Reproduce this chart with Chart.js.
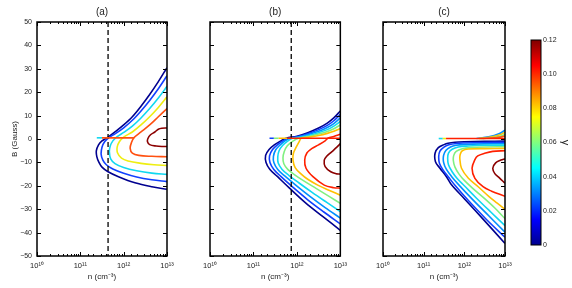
<!DOCTYPE html>
<html>
<head>
<meta charset="utf-8">
<script src="https://cdn.jsdelivr.net/npm/chart.js@4.4.0/dist/chart.umd.min.js"></script>
<style>
html, body { margin: 0; padding: 0; background: #fff; }
#wrap { position: relative; width: 572px; height: 288px; overflow: hidden; }
.pane { position: absolute; top: 0; }
</style>
</head>
<body>
<div id="wrap">
  <canvas id="chart-a" class="pane" style="left:0" width="180" height="288"></canvas>
  <canvas id="chart-b" class="pane" style="left:180px" width="172" height="288"></canvas>
  <canvas id="chart-c" class="pane" style="left:352px" width="166" height="288"></canvas>
  <canvas id="chart-bar" class="pane" style="left:520px" width="52" height="288"></canvas>
</div>
<script>
// contour points are [log10(n), B in Gauss]
const yTickValues = [-50, -40, -30, -20, -10, 0, 10, 20, 30, 40, 50];
const gammaTicks = [0, 0.02, 0.04, 0.06, 0.08, 0.10, 0.12];

// panel (a)
const aDash = 11.64;
const aNavy = [[13.0,30.5],[12.8,24.5],[12.6,19],[12.4,14],[12.2,9.5],[12.0,6],[11.8,3],[11.64,0.8],[11.5,-0.8],[11.42,-2.5],[11.37,-5],[11.38,-7.5],[11.43,-10],[11.5,-12],[11.64,-14],[11.88,-16.1],[12.26,-18.7],[12.65,-20.4],[13.0,-21.5]];
const aBlue = [[13.0,27],[12.8,21.5],[12.6,16.5],[12.4,12],[12.2,8],[12.0,4.8],[11.8,2.2],[11.66,0.6],[11.56,-1.2],[11.5,-3.5],[11.48,-6.5],[11.52,-9],[11.6,-11],[11.75,-12.8],[12.0,-14.6],[12.3,-16.2],[12.65,-17.4],[13.0,-18.2]];
const aCyan = [[13.0,22.5],[12.8,17.5],[12.6,13],[12.4,9],[12.2,5.5],[12.0,2.8],[11.85,1],[11.75,-0.8],[11.69,-3],[11.67,-5.5],[11.7,-8.5],[11.8,-10.5],[12.0,-12.2],[12.3,-13.6],[12.65,-14.6],[13.0,-15.1]];
const aYellow = [[13.0,18],[12.8,13.5],[12.6,9.5],[12.4,6],[12.2,3],[12.0,0.8],[11.9,-1.2],[11.85,-3.5],[11.86,-6],[11.95,-8.2],[12.1,-9.4],[12.4,-10.4],[12.7,-11],[13.0,-11.3]];
const aOrange = [[13.0,13],[12.8,9.5],[12.6,6],[12.4,3],[12.24,0.6],[12.18,-1.5],[12.15,-4],[12.2,-6],[12.35,-7],[12.65,-7.4],[13.0,-7.6]];
const aDarkRed = [[13.0,4.7],[12.88,4.6],[12.8,4.2],[12.72,3],[12.62,1.8],[12.56,0.2],[12.55,-1.2],[12.6,-2.4],[12.75,-3.0],[12.9,-3.2],[13.0,-3.2]];
const aFlatTip = [[11.38,0.5],[11.5,0.5]];
const aFlat = [[11.5,0.5],[12.24,0.5]];

// panel (b)
const bDash = 11.87;
const bNavy = [[13.0,12],[12.85,9],[12.7,6.8],[12.5,4.7],[12.25,2.7],[12.0,1.2],[11.75,0.3],[11.62,-0.9],[11.48,-2.5],[11.36,-4.5],[11.28,-7],[11.29,-10],[11.38,-13],[11.55,-16],[11.83,-21],[12.2,-27.3],[12.6,-33.2],[13.0,-39]];
const bBlue = [[13.0,10.5],[12.85,7.8],[12.7,5.8],[12.5,4],[12.25,2.2],[12.0,0.9],[11.8,0.3],[11.67,-0.9],[11.55,-2.5],[11.44,-4.5],[11.37,-7.2],[11.38,-10],[11.47,-13],[11.63,-16],[11.9,-20.5],[12.25,-26],[12.62,-31.2],[13.0,-36.3]];
const bDodger = [[13.0,9],[12.85,6.6],[12.7,4.9],[12.5,3.3],[12.25,1.8],[12.0,0.7],[11.85,0.3],[11.72,-0.9],[11.61,-2.6],[11.51,-4.7],[11.46,-7.4],[11.47,-10],[11.56,-13],[11.72,-15.8],[11.98,-19.8],[12.3,-24.5],[12.65,-29.3],[13.0,-33.8]];
const bCyan = [[13.0,7.5],[12.85,5.5],[12.7,4],[12.5,2.7],[12.25,1.4],[12.0,0.5],[11.9,0.3],[11.78,-1],[11.67,-2.8],[11.59,-5],[11.56,-7.6],[11.57,-10.3],[11.66,-13],[11.82,-15.6],[12.05,-18.8],[12.35,-22.8],[12.68,-27],[13.0,-31]];
const bGreen = [[13.0,6],[12.85,4.4],[12.7,3.2],[12.5,2.1],[12.25,1.0],[12.05,0.4],[11.9,-1],[11.78,-2.9],[11.71,-5.3],[11.68,-8],[11.7,-10.6],[11.79,-13],[11.95,-15.3],[12.15,-17.8],[12.45,-21.2],[12.75,-24.6],[13.0,-27.5]];
const bOrange = [[13.0,4.5],[12.85,3.3],[12.7,2.4],[12.5,1.5],[12.25,0.7],[12.1,0.3],[12.05,-1.2],[11.99,-3.3],[11.92,-6.1],[11.91,-9],[11.96,-12.2],[12.1,-15],[12.25,-17.2],[12.48,-19.7],[12.75,-22],[13.0,-24]];
const bRed = [[13.0,2],[12.85,1.1],[12.72,0.4],[12.65,-0.8],[12.5,-2.5],[12.35,-4],[12.23,-6],[12.18,-9],[12.21,-12.5],[12.37,-16.1],[12.63,-19.7],[12.85,-20.8],[13.0,-21]];
const bDarkRed = [[13.0,-2],[12.92,-3.5],[12.8,-5.5],[12.68,-7.5],[12.63,-9],[12.65,-11.8],[12.78,-14],[12.92,-14.9],[13.0,-15]];
const bFlatTip1 = [[11.37,0.3],[11.47,0.3]];
const bFlatTip2 = [[11.47,0.3],[11.58,0.3]];
const bFlatTip3 = [[11.58,0.3],[11.78,0.3]];
const bFlat = [[11.78,0.3],[13.0,0.3]];

// panel (c)
const cNavy = [[13.0,-0.9],[12.5,-1.0],[12.0,-1.2],[11.77,-1.4],[11.6,-1.8],[11.5,-2.4],[11.36,-3.7],[11.28,-6.1],[11.29,-9.7],[11.4,-12.5],[11.56,-16.1],[11.69,-19.7],[12.0,-25.5],[12.5,-35],[13.0,-44.6]];
const cBlue = [[13.0,-1.4],[12.5,-1.5],[12.0,-1.7],[11.8,-1.9],[11.62,-2.5],[11.5,-3.5],[11.4,-5.2],[11.37,-7.5],[11.39,-10.5],[11.48,-13.3],[11.62,-16.5],[11.78,-20],[12.1,-26.3],[12.55,-34.5],[13.0,-42]];
const cDodger = [[13.0,-2],[12.5,-2.1],[12.0,-2.4],[11.8,-2.7],[11.66,-3.4],[11.55,-4.8],[11.49,-7],[11.49,-10],[11.56,-13],[11.7,-16.3],[11.87,-19.7],[12.2,-25.8],[12.6,-32.8],[13.0,-39.8]];
const cCyan = [[13.0,-2.6],[12.5,-2.7],[12.1,-3],[11.85,-3.4],[11.7,-4.4],[11.61,-6],[11.59,-8.2],[11.61,-11],[11.7,-14],[11.83,-17],[12.0,-20],[12.3,-25.3],[12.65,-31.2],[13.0,-37]];
const cGreen = [[13.0,-3.3],[12.5,-3.4],[12.15,-3.7],[11.95,-4.2],[11.8,-5.3],[11.74,-7],[11.73,-9.3],[11.77,-12],[11.87,-15],[12.0,-17.7],[12.2,-21],[12.5,-25.5],[12.75,-29.5],[13.0,-34]];
const cOrange = [[13.0,-4],[12.5,-4.1],[12.1,-4.3],[11.95,-5],[11.9,-6.5],[11.89,-8.5],[11.93,-12.5],[12.1,-16.8],[12.34,-20.4],[12.6,-24.5],[12.8,-27.3],[13.0,-30]];
const cRed = [[13.0,-5],[12.7,-5.3],[12.5,-6.1],[12.33,-7.2],[12.26,-8.8],[12.19,-12.5],[12.26,-16.8],[12.46,-20.4],[12.67,-22.3],[13.0,-24.5]];
const cDarkRed = [[13.0,-8.5],[12.9,-9],[12.77,-10.2],[12.7,-12.5],[12.75,-14.8],[12.85,-16.4],[13.0,-18.9]];
const cFan1 = [[12.3,0.2],[12.6,0.9],[12.85,2.2],[13.0,3.8]];
const cFan2 = [[12.35,0.2],[12.65,0.8],[12.88,1.8],[13.0,2.9]];
const cFan3 = [[12.4,0.2],[12.7,0.6],[12.9,1.3],[13.0,2.0]];
const cFan4 = [[12.45,0.2],[12.75,0.5],[12.92,0.9],[13.0,1.3]];
const cFlatTip1 = [[11.37,0.2],[11.47,0.2]];
const cFlatTip2 = [[11.47,0.2],[11.55,0.2]];
const cFlat = [[11.55,0.2],[13.0,0.2]];

const NAVY = '#00008f', BLUE = '#1040ff', DODGER = '#0090ff', CYAN = '#10d8f0',
      GREEN = '#80f080', YELLOW = '#eeee10', ORANGE = '#ffc000', ORANGERED = '#ff5010',
      RED = '#ff2000', DARKRED = '#8b0000';

Chart.defaults.font.family = '"Liberation Sans", Arial, sans-serif';
Chart.defaults.color = '#222';

const SUP = { '0': '\u2070', '1': '\u00b9', '2': '\u00b2', '3': '\u00b3' };

function isDecade(v) {
    const e = Math.log10(v);
    return Math.abs(e - Math.round(e)) < 1e-6;
}

function decadeLabel(v) {
    if (!isDecade(v)) return '';
    return '10' + String(Math.round(Math.log10(v))).split('').map(c => SUP[c]).join('');
}

// box outline and inward tick marks like the original figure
const boxTicks = {
    id: 'boxTicks',
    afterDraw(chart, args, opts) {
        if (!opts.on) return;
        const { ctx, chartArea: a } = chart;
        ctx.save();
        ctx.strokeStyle = '#000';
        ctx.lineWidth = 1;
        if (opts.xTicks) {
            const x = chart.scales.x;
            x.ticks.forEach(t => {
                const px = Math.round(x.getPixelForValue(t.value)) + 0.5;
                const len = isDecade(t.value) ? 4 : 2;
                ctx.beginPath();
                ctx.moveTo(px, a.top); ctx.lineTo(px, a.top + len);
                ctx.moveTo(px, a.bottom); ctx.lineTo(px, a.bottom - len);
                ctx.stroke();
            });
        }
        if (opts.yTicks) {
            const y = chart.scales.y;
            yTickValues.forEach(v => {
                const py = Math.round(y.getPixelForValue(v)) + 0.5;
                ctx.beginPath();
                ctx.moveTo(a.left, py); ctx.lineTo(a.left + 4, py);
                ctx.moveTo(a.right, py); ctx.lineTo(a.right - 4, py);
                ctx.stroke();
            });
        }
        ctx.lineWidth = opts.border || 1.5;
        ctx.strokeRect(a.left, a.top, a.right - a.left, a.bottom - a.top);
        ctx.restore();
    }
};
Chart.register(boxTicks);

function curve(points, color) {
    return {
        data: points.map(p => ({ x: Math.pow(10, p[0]), y: p[1] })),
        borderColor: color,
        borderWidth: 1.6,
        pointRadius: 0,
        showLine: true,
        tension: 0.35,
        fill: false
    };
}

function dashed(logn) {
    return {
        data: [{ x: Math.pow(10, logn), y: 50 }, { x: Math.pow(10, logn), y: -50 }],
        borderColor: '#000',
        borderWidth: 1.3,
        borderDash: [5, 3],
        pointRadius: 0,
        showLine: true
    };
}

function makePanel(id, title, datasets, withY, padLeft, padRight) {
    return new Chart(document.getElementById(id), {
        type: 'scatter',
        data: { datasets: datasets },
        options: {
            responsive: false,
            animation: false,
            layout: { padding: { left: padLeft, right: padRight, top: 0, bottom: 0 } },
            plugins: {
                legend: { display: false },
                tooltip: { enabled: false },
                title: {
                    display: true, text: title, fullSize: false,
                    font: { size: 10, weight: 'normal' }, color: '#222',
                    padding: { top: 6, bottom: 4 }
                },
                boxTicks: { on: true, xTicks: true, yTicks: true }
            },
            scales: {
                x: {
                    type: 'logarithmic', min: 1e10, max: 1e13,
                    grid: { display: false, drawTicks: false },
                    border: { display: false },
                    ticks: {
                        autoSkip: false, maxRotation: 0, padding: 5,
                        font: { size: 7.5 }, color: '#222',
                        callback: v => decadeLabel(v)
                    },
                    title: {
                        display: true, text: 'n (cm\u207b\u00b3)',
                        font: { size: 8 }, color: '#222', padding: { top: 0, bottom: 6 }
                    },
                    afterFit: s => { s.height = 32; }
                },
                y: {
                    min: -50, max: 50,
                    grid: { display: false, drawTicks: false },
                    border: { display: false },
                    ticks: {
                        display: withY, stepSize: 10, padding: 5,
                        font: { size: 7 }, color: '#222',
                        callback: v => v < 0 ? '\u2212' + (-v) : String(v)
                    },
                    title: {
                        display: withY, text: 'B (Gauss)',
                        font: { size: 8 }, color: '#222', padding: { top: 10, bottom: 0 }
                    },
                    afterFit: s => { s.width = withY ? 37 : 0; }
                }
            }
        }
    });
}

makePanel('chart-a', '(a)', [
    curve(aFlat, ORANGERED),
    curve(aFlatTip, CYAN),
    dashed(aDash),
    curve(aDarkRed, DARKRED),
    curve(aOrange, ORANGERED),
    curve(aYellow, YELLOW),
    curve(aCyan, CYAN),
    curve(aBlue, BLUE),
    curve(aNavy, NAVY)
], true, 0, 13);

makePanel('chart-b', '(b)', [
    curve(bFlat, RED),
    curve(bFlatTip3, ORANGE),
    curve(bFlatTip2, GREEN),
    curve(bFlatTip1, BLUE),
    dashed(bDash),
    curve(bDarkRed, DARKRED),
    curve(bRed, RED),
    curve(bOrange, ORANGE),
    curve(bGreen, GREEN),
    curve(bCyan, CYAN),
    curve(bDodger, DODGER),
    curve(bBlue, BLUE),
    curve(bNavy, NAVY)
], false, 30, 11);

makePanel('chart-c', '(c)', [
    curve(cFlat, RED),
    curve(cFlatTip2, YELLOW),
    curve(cFlatTip1, CYAN),
    curve(cFan4, ORANGERED),
    curve(cFan3, GREEN),
    curve(cFan2, ORANGE),
    curve(cFan1, DODGER),
    curve(cDarkRed, DARKRED),
    curve(cRed, RED),
    curve(cOrange, ORANGE),
    curve(cGreen, GREEN),
    curve(cCyan, CYAN),
    curve(cDodger, DODGER),
    curve(cBlue, BLUE),
    curve(cNavy, NAVY)
], false, 31, 13);

// colour bar for gamma
new Chart(document.getElementById('chart-bar'), {
    type: 'bar',
    data: {
        labels: [''],
        datasets: [{
            data: [gammaTicks[gammaTicks.length - 1]],
            barPercentage: 1,
            categoryPercentage: 1,
            borderWidth: 0,
            backgroundColor: ctx => {
                const area = ctx.chart.chartArea;
                if (!area) return '#888';
                const g = ctx.chart.ctx.createLinearGradient(0, area.bottom, 0, area.top);
                g.addColorStop(0, '#00008f');
                g.addColorStop(0.125, '#0000ff');
                g.addColorStop(0.375, '#00ffff');
                g.addColorStop(0.625, '#ffff00');
                g.addColorStop(0.875, '#ff0000');
                g.addColorStop(1, '#800000');
                return g;
            }
        }]
    },
    options: {
        responsive: false,
        animation: false,
        layout: { padding: { left: 11, right: 0, top: 40, bottom: 43 } },
        plugins: {
            legend: { display: false },
            tooltip: { enabled: false },
            boxTicks: { on: true, border: 1 }
        },
        scales: {
            x: { display: false },
            y: {
                position: 'right',
                min: 0, max: 0.12,
                grid: { display: false, drawTicks: false },
                border: { display: false },
                afterBuildTicks: s => { s.ticks = gammaTicks.map(v => ({ value: v })); },
                ticks: {
                    padding: 2, font: { size: 7 }, color: '#222',
                    callback: v => v === 0 ? '0' : v.toFixed(2)
                },
                title: {
                    display: true, text: '\u03b3',
                    font: { size: 11 }, color: '#222', padding: { top: 0, bottom: 6 }
                },
                afterFit: s => { s.width = 31; }
            }
        }
    }
});
</script>
</body>
</html>
